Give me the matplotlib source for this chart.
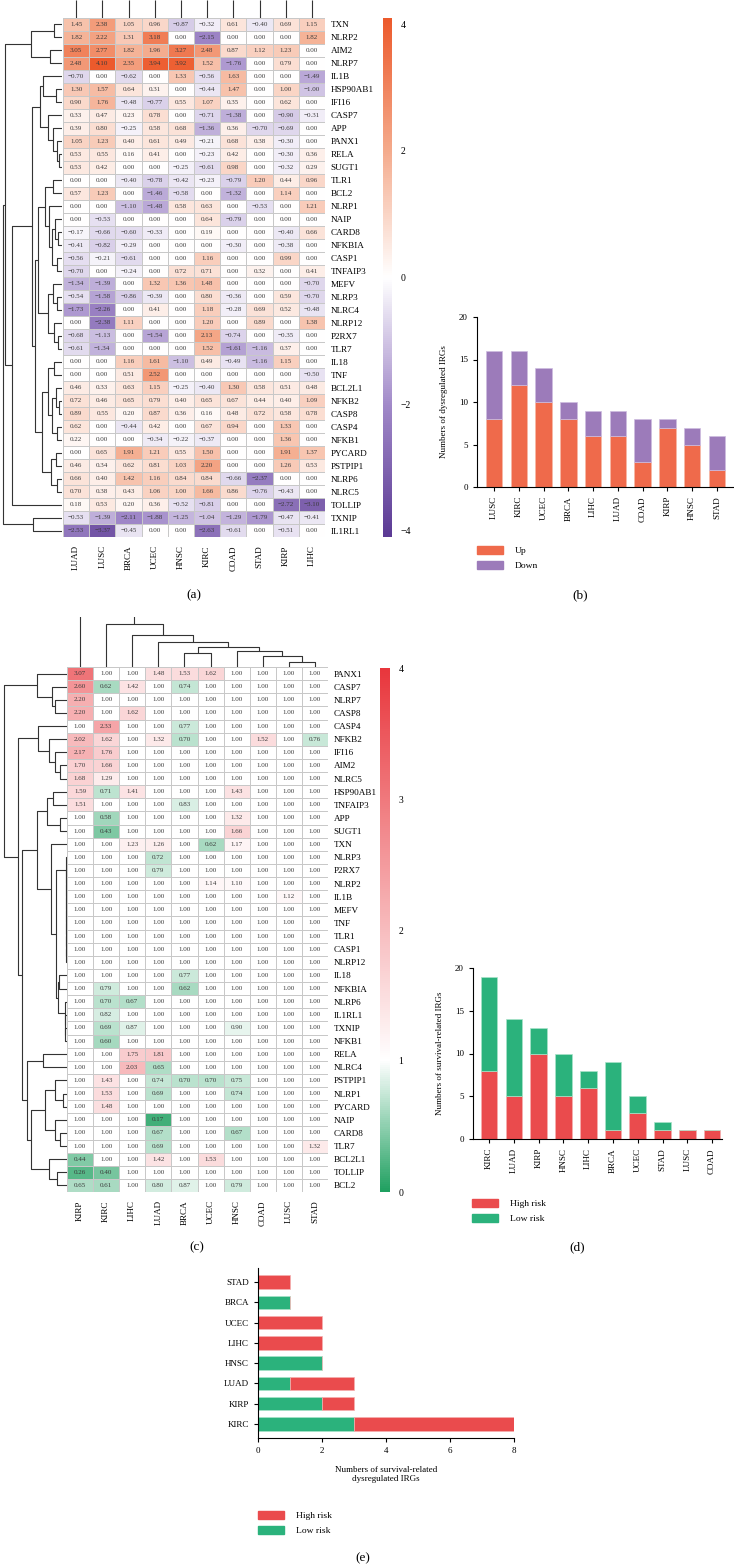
import numpy as np
import matplotlib
matplotlib.use("Agg")
import matplotlib.pyplot as plt
from matplotlib.colors import LinearSegmentedColormap
from matplotlib.patches import Patch

plt.rcParams['font.family'] = ['Liberation Serif', 'DejaVu Serif']

# ---------------- data: panel (a) ----------------
cols_a = ["LUAD", "LUSC", "BRCA", "UCEC", "HNSC", "KIRC", "COAD", "STAD", "KIRP", "LIHC"]
rows_a = ["TXN", "NLRP2", "AIM2", "NLRP7", "IL1B", "HSP90AB1", "IFI16", "CASP7", "APP", "PANX1",
          "RELA", "SUGT1", "TLR1", "BCL2", "NLRP1", "NAIP", "CARD8", "NFKBIA", "CASP1", "TNFAIP3",
          "MEFV", "NLRP3", "NLRC4", "NLRP12", "P2RX7", "TLR7", "IL18", "TNF", "BCL2L1", "NFKB2",
          "CASP8", "CASP4", "NFKB1", "PYCARD", "PSTPIP1", "NLRP6", "NLRC5", "TOLLIP", "TXNIP", "IL1RL1"]
vals_a = [
    [1.45, 2.38, 1.05, 0.96, -0.87, -0.32, 0.61, -0.40, 0.69, 1.15],
    [1.82, 2.22, 1.31, 3.18, 0.00, -2.15, 0.00, 0.00, 0.00, 1.82],
    [3.05, 2.77, 1.82, 1.96, 3.27, 2.48, 0.87, 1.12, 1.23, 0.00],
    [2.48, 4.10, 2.35, 3.94, 3.92, 1.52, -1.76, 0.00, 0.79, 0.00],
    [-0.70, 0.00, -0.62, 0.00, 1.33, -0.56, 1.63, 0.00, 0.00, -1.49],
    [1.30, 1.57, 0.64, 0.31, 0.00, -0.44, 1.47, 0.00, 1.00, -1.00],
    [0.90, 1.76, -0.48, -0.77, 0.55, 1.07, 0.35, 0.00, 0.62, 0.00],
    [0.33, 0.47, 0.23, 0.78, 0.00, -0.71, -1.38, 0.00, -0.90, -0.31],
    [0.39, 0.80, -0.25, 0.58, 0.68, -1.36, 0.36, -0.70, -0.69, 0.00],
    [1.05, 1.23, 0.40, 0.61, 0.49, -0.21, 0.68, 0.38, -0.30, 0.00],
    [0.53, 0.55, 0.16, 0.41, 0.00, -0.23, 0.42, 0.00, -0.30, 0.36],
    [0.53, 0.42, 0.00, 0.00, -0.25, -0.61, 0.98, 0.00, -0.32, 0.29],
    [0.00, 0.00, -0.40, -0.78, -0.42, -0.23, -0.79, 1.20, 0.44, 0.96],
    [0.57, 1.23, 0.00, -1.46, -0.58, 0.00, -1.32, 0.00, 1.14, 0.00],
    [0.00, 0.00, -1.10, -1.48, 0.58, 0.63, 0.00, -0.53, 0.00, 1.21],
    [0.00, -0.53, 0.00, 0.00, 0.00, 0.64, -0.79, 0.00, 0.00, 0.00],
    [-0.17, -0.66, -0.60, -0.33, 0.00, 0.19, 0.00, 0.00, -0.40, 0.66],
    [-0.41, -0.82, -0.29, 0.00, 0.00, 0.00, -0.30, 0.00, -0.38, 0.00],
    [-0.56, -0.21, -0.61, 0.00, 0.00, 1.16, 0.00, 0.00, 0.99, 0.00],
    [-0.70, 0.00, -0.24, 0.00, 0.72, 0.71, 0.00, 0.32, 0.00, 0.41],
    [-1.34, -1.39, 0.00, 1.32, 1.36, 1.48, 0.00, 0.00, 0.00, -0.70],
    [-0.54, -1.58, -0.86, -0.39, 0.00, 0.80, -0.36, 0.00, 0.59, -0.70],
    [-1.73, -2.26, 0.00, 0.41, 0.00, 1.18, -0.28, 0.69, 0.52, -0.48],
    [0.00, -2.38, 1.11, 0.00, 0.00, 1.20, 0.00, 0.89, 0.00, 1.38],
    [-0.68, -1.13, 0.00, -1.54, 0.00, 2.13, -0.74, 0.00, -0.35, 0.00],
    [-0.61, -1.34, 0.00, 0.00, 0.00, 1.52, -1.61, -1.16, 0.37, 0.00],
    [0.00, 0.00, 1.16, 1.61, -1.10, 0.49, -0.49, -1.16, 1.15, 0.00],
    [0.00, 0.00, 0.51, 2.52, 0.00, 0.00, 0.00, 0.00, 0.00, -0.50],
    [0.46, 0.33, 0.63, 1.15, -0.25, -0.40, 1.30, 0.58, 0.51, 0.48],
    [0.72, 0.46, 0.65, 0.79, 0.40, 0.65, 0.67, 0.44, 0.40, 1.09],
    [0.89, 0.55, 0.20, 0.87, 0.36, 0.16, 0.48, 0.72, 0.58, 0.78],
    [0.62, 0.00, -0.44, 0.42, 0.00, 0.67, 0.94, 0.00, 1.33, 0.00],
    [0.22, 0.00, 0.00, -0.34, -0.22, -0.37, 0.00, 0.00, 1.36, 0.00],
    [0.00, 0.65, 1.91, 1.21, 0.55, 1.50, 0.00, 0.00, 1.91, 1.37],
    [0.46, 0.34, 0.62, 0.81, 1.03, 2.20, 0.00, 0.00, 1.26, 0.53],
    [0.66, 0.40, 1.42, 1.16, 0.84, 0.84, -0.66, -2.37, 0.00, 0.00],
    [0.70, 0.38, 0.43, 1.06, 1.00, 1.66, 0.86, -0.76, -0.43, 0.00],
    [0.18, 0.53, 0.20, 0.36, -0.52, -0.81, 0.00, 0.00, -2.72, -3.10],
    [-0.53, -1.39, -2.11, -1.88, -1.25, -1.04, -1.29, -1.79, -0.47, -0.41],
    [-2.53, -3.37, -0.45, 0.00, 0.00, -2.63, -0.61, 0.00, -0.51, 0.00],
]
# row dendrogram of (a): nodes are (left, right, merge height); ints are leaf rows
a_U1 = ((0, 1, 8), (2, 3, 12), 31)
a_L12 = ((4, (5, 6, 6), 19), (7, (8, (9, (10, 11, 3), 5), 9), 14), 22)
a_M1 = ((12, 13, 9), (14, ((15, (16, 17, 4), 7), (18, 19, 5), 10), 13), 17)
a_M2 = ((20, (21, 22, 5), 9), (23, (24, 25, 4), 8), 14)
a_N1 = ((26, 27, 8), ((28, (29, 30, 3), 6), (31, 32, 5), 10), 14)
a_N2 = ((33, 34, 6), (35, 36, 5), 11)
a_MN = ((a_M1, a_M2, 24), (a_N1, a_N2, 20), 27)
a_LOW = ((a_L12, a_MN, 30), 37, 50)
tree_a = ((a_U1, a_LOW, 57), (38, 39, 29), 59)

# ---------------- data: panel (b) ----------------
cats_b = ["LUSC", "KIRC", "UCEC", "BRCA", "LIHC", "LUAD", "COAD", "KIRP", "HNSC", "STAD"]
up_b = [8, 12, 10, 8, 6, 6, 3, 7, 5, 2]
down_b = [8, 4, 4, 2, 3, 3, 5, 1, 2, 4]

# ---------------- data: panel (c) ----------------
cols_c = ["KIRP", "KIRC", "LIHC", "LUAD", "BRCA", "UCEC", "HNSC", "COAD", "LUSC", "STAD"]
rows_c = ["PANX1", "CASP7", "NLRP7", "CASP8", "CASP4", "NFKB2", "IFI16", "AIM2", "NLRC5", "HSP90AB1",
          "TNFAIP3", "APP", "SUGT1", "TXN", "NLRP3", "P2RX7", "NLRP2", "IL1B", "MEFV", "TNF",
          "TLR1", "CASP1", "NLRP12", "IL18", "NFKBIA", "NLRP6", "IL1RL1", "TXNIP", "NFKB1", "RELA",
          "NLRC4", "PSTPIP1", "NLRP1", "PYCARD", "NAIP", "CARD8", "TLR7", "BCL2L1", "TOLLIP", "BCL2"]
vals_c = [
    [3.07, 1.00, 1.00, 1.48, 1.53, 1.62, 1.00, 1.00, 1.00, 1.00],
    [2.60, 0.62, 1.42, 1.00, 0.74, 1.00, 1.00, 1.00, 1.00, 1.00],
    [2.20, 1.00, 1.00, 1.00, 1.00, 1.00, 1.00, 1.00, 1.00, 1.00],
    [2.20, 1.00, 1.62, 1.00, 1.00, 1.00, 1.00, 1.00, 1.00, 1.00],
    [1.00, 2.33, 1.00, 1.00, 0.77, 1.00, 1.00, 1.00, 1.00, 1.00],
    [2.02, 1.62, 1.00, 1.32, 0.70, 1.00, 1.00, 1.52, 1.00, 0.76],
    [2.17, 1.76, 1.00, 1.00, 1.00, 1.00, 1.00, 1.00, 1.00, 1.00],
    [1.70, 1.66, 1.00, 1.00, 1.00, 1.00, 1.00, 1.00, 1.00, 1.00],
    [1.68, 1.29, 1.00, 1.00, 1.00, 1.00, 1.00, 1.00, 1.00, 1.00],
    [1.59, 0.71, 1.41, 1.00, 1.00, 1.00, 1.43, 1.00, 1.00, 1.00],
    [1.51, 1.00, 1.00, 1.00, 0.83, 1.00, 1.00, 1.00, 1.00, 1.00],
    [1.00, 0.58, 1.00, 1.00, 1.00, 1.00, 1.32, 1.00, 1.00, 1.00],
    [1.00, 0.43, 1.00, 1.00, 1.00, 1.00, 1.66, 1.00, 1.00, 1.00],
    [1.00, 1.00, 1.23, 1.26, 1.00, 0.62, 1.17, 1.00, 1.00, 1.00],
    [1.00, 1.00, 1.00, 0.72, 1.00, 1.00, 1.00, 1.00, 1.00, 1.00],
    [1.00, 1.00, 1.00, 0.79, 1.00, 1.00, 1.00, 1.00, 1.00, 1.00],
    [1.00, 1.00, 1.00, 1.00, 1.00, 1.14, 1.10, 1.00, 1.00, 1.00],
    [1.00, 1.00, 1.00, 1.00, 1.00, 1.00, 1.00, 1.00, 1.12, 1.00],
    [1.00, 1.00, 1.00, 1.00, 1.00, 1.00, 1.00, 1.00, 1.00, 1.00],
    [1.00, 1.00, 1.00, 1.00, 1.00, 1.00, 1.00, 1.00, 1.00, 1.00],
    [1.00, 1.00, 1.00, 1.00, 1.00, 1.00, 1.00, 1.00, 1.00, 1.00],
    [1.00, 1.00, 1.00, 1.00, 1.00, 1.00, 1.00, 1.00, 1.00, 1.00],
    [1.00, 1.00, 1.00, 1.00, 1.00, 1.00, 1.00, 1.00, 1.00, 1.00],
    [1.00, 1.00, 1.00, 1.00, 0.77, 1.00, 1.00, 1.00, 1.00, 1.00],
    [1.00, 0.79, 1.00, 1.00, 0.62, 1.00, 1.00, 1.00, 1.00, 1.00],
    [1.00, 0.70, 0.67, 1.00, 1.00, 1.00, 1.00, 1.00, 1.00, 1.00],
    [1.00, 0.82, 1.00, 1.00, 1.00, 1.00, 1.00, 1.00, 1.00, 1.00],
    [1.00, 0.69, 0.87, 1.00, 1.00, 1.00, 0.90, 1.00, 1.00, 1.00],
    [1.00, 0.60, 1.00, 1.00, 1.00, 1.00, 1.00, 1.00, 1.00, 1.00],
    [1.00, 1.00, 1.75, 1.81, 1.00, 1.00, 1.00, 1.00, 1.00, 1.00],
    [1.00, 1.00, 2.03, 0.65, 1.00, 1.00, 1.00, 1.00, 1.00, 1.00],
    [1.00, 1.43, 1.00, 0.74, 0.70, 0.70, 0.75, 1.00, 1.00, 1.00],
    [1.00, 1.53, 1.00, 0.69, 1.00, 1.00, 0.74, 1.00, 1.00, 1.00],
    [1.00, 1.48, 1.00, 1.00, 1.00, 1.00, 1.00, 1.00, 1.00, 1.00],
    [1.00, 1.00, 1.00, 0.17, 1.00, 1.00, 1.00, 1.00, 1.00, 1.00],
    [1.00, 1.00, 1.00, 0.67, 1.00, 1.00, 0.67, 1.00, 1.00, 1.00],
    [1.00, 1.00, 1.00, 0.69, 1.00, 1.00, 1.00, 1.00, 1.00, 1.32],
    [0.44, 1.00, 1.00, 1.42, 1.00, 1.53, 1.00, 1.00, 1.00, 1.00],
    [0.26, 0.40, 1.00, 1.00, 1.00, 1.00, 1.00, 1.00, 1.00, 1.00],
    [0.65, 0.61, 1.00, 0.80, 0.87, 1.00, 0.79, 1.00, 1.00, 1.00],
]
c_A = (0, (1, (2, 3, 12), 15), 30)
c_B = (4, (5, (6, (7, 8, 7), 12), 18), 29)
c_F1 = (14, (15, (16, (17, (18, (19, (20, (21, 22, 1.5), 1.5), 1.5), 1.5), 1.5), 1.5), 1.5), 1.5)
c_F23 = ((23, 24, 8), (25, (26, (27, 28, 2), 2), 2), 9)
c_T = (13, (c_F1, c_F23, 11), 16)
c_HT = (((9, 10, 14), (11, 12, 7), 20), c_T, 30)
c_P = ((31, (32, 33, 4), 12), (34, (35, 36, 7), 12), 22)
c_Bt = (37, (38, 39, 10), 18)
c_RPB = ((29, 30, 24), (c_P, c_Bt, 36), 40)
tree_c_rows = (c_A, (c_B, (c_HT, c_RPB, 45), 49), 63)
tree_c_cols = (0, (1, (2, (3, ((4, 5, 14), (6, (7, (8, 9, 5), 11), 16), 20), 25), 32), 43), 70)

# ---------------- data: panel (d) ----------------
cats_d = ["KIRC", "LUAD", "KIRP", "HNSC", "LIHC", "BRCA", "UCEC", "STAD", "LUSC", "COAD"]
high_d = [8, 5, 10, 5, 6, 1, 3, 1, 1, 1]
low_d = [11, 9, 3, 5, 2, 8, 2, 1, 0, 0]

# ---------------- data: panel (e) ----------------
cats_e = ["KIRC", "KIRP", "LUAD", "HNSC", "LIHC", "UCEC", "BRCA", "STAD"]
low_e = [3, 2, 1, 2, 0, 0, 1, 0]
high_e = [5, 1, 2, 0, 2, 2, 0, 1]

# ---------------- styling ----------------
C_UP, C_DOWN = "#EF6A4B", "#9C7BBA"
C_HIGH, C_LOW = "#EA4B4D", "#2BB27C"
LINE = "#333333"
cmap_a = LinearSegmentedColormap.from_list("a", ["#5B3A94", "#A088C8", "#FFFFFF", "#F4A98A", "#EC5A2C"])
cmap_c = LinearSegmentedColormap.from_list("c", [(0.0, "#1FA060"), (0.25, "#FFFFFF"), (1.0, "#E8363C")])

W, H = 734, 1567
fig = plt.figure(figsize=(W / 100, H / 100), dpi=100)


def ax_px(x0, y0, x1, y1):
    return fig.add_axes([x0 / W, 1 - y1 / H, (x1 - x0) / W, (y1 - y0) / H])


def fmt(v):
    return f"{v:.2f}".replace("-", "\u2212")


def heatmap(ax, M, rows, cols, cmap, vmin, vmax):
    M = np.array(M)
    n, m = M.shape
    mesh = ax.pcolormesh(np.arange(m + 1), np.arange(n + 1), M, cmap=cmap, vmin=vmin, vmax=vmax,
                         edgecolors="#c8c8c8", linewidth=0.7)
    ax.set_xlim(0, m)
    ax.set_ylim(n, 0)
    for i in range(n):
        for j in range(m):
            ax.text(j + 0.5, i + 0.5, fmt(M[i, j]), ha="center", va="center", fontsize=5.0, color="#3a3a3a")
    ax.set_xticks(np.arange(m) + 0.5)
    ax.set_xticklabels(cols, rotation=90, fontsize=6.5, va="top")
    ax.set_yticks(np.arange(n) + 0.5)
    ax.set_yticklabels(rows, fontsize=6.6)
    ax.yaxis.tick_right()
    ax.tick_params(axis="x", length=0, pad=6)
    ax.tick_params(axis="y", length=0, pad=4)
    for s in ax.spines.values():
        s.set_visible(False)
    return mesh


def draw_tree(ax, node, orient):
    if not isinstance(node, tuple):
        return node + 0.5, 0.0
    l, r, h = node
    pl, hl = draw_tree(ax, l, orient)
    pr, hr = draw_tree(ax, r, orient)
    if orient == "left":
        ax.plot([hl, h, h, hr], [pl, pl, pr, pr], color=LINE, lw=0.8, solid_capstyle="butt")
    else:
        ax.plot([pl, pl, pr, pr], [hl, h, h, hr], color=LINE, lw=0.8, solid_capstyle="butt")
    return (pl + pr) / 2, h


def colorbar(cax, mesh, ticks):
    cb = fig.colorbar(mesh, cax=cax, ticks=ticks)
    cb.outline.set_visible(False)
    cb.ax.tick_params(length=0, labelsize=7, pad=6)
    cb.ax.set_yticklabels([fmt(t).split(".")[0] for t in ticks])
    return cb


# ================= (a) =================
ax_a = ax_px(63, 18, 325, 537)
mesh_a = heatmap(ax_a, vals_a, rows_a, cols_a, cmap_a, -4.1, 4.1)
dax = ax_px(0, 18, 62, 537)
draw_tree(dax, tree_a, "left")
dax.set_xlim(62, 0)
dax.set_ylim(40, 0)
dax.axis("off")
cdax = ax_px(63, 0, 325, 18)
cdax.vlines(np.arange(len(cols_a)) + 0.5, 0, 1, color=LINE, lw=0.8)
cdax.set_xlim(0, len(cols_a))
cdax.set_ylim(0, 1)
cdax.axis("off")
colorbar(ax_px(383, 18, 392, 537), mesh_a, [-4, -2, 0, 2, 4])
fig.text(194 / W, 1 - 595 / H, "(a)", ha="center", va="center", fontsize=9.5)

# ================= (b) =================
ax_b = ax_px(477, 317, 733, 487)
xb = np.arange(len(cats_b))
ax_b.bar(xb, up_b, width=0.67, color=C_UP, edgecolor="#f7b9a6", linewidth=0.5)
ax_b.bar(xb, down_b, bottom=up_b, width=0.67, color=C_DOWN, edgecolor="#cdbde0", linewidth=0.5)
ax_b.set_xlim(-0.69, 9.65)
ax_b.set_ylim(0, 20)
ax_b.set_yticks([0, 5, 10, 15, 20])
ax_b.set_xticks(xb)
ax_b.set_xticklabels(cats_b, rotation=90, fontsize=6.5)
ax_b.tick_params(axis="y", labelsize=6.5, length=3, width=0.8)
ax_b.tick_params(axis="x", length=3, width=0.8)
ax_b.set_ylabel("Numbers of dysregulated IRGs", fontsize=6.5, labelpad=8)
for s in ["top", "right"]:
    ax_b.spines[s].set_visible(False)
fig.legend([Patch(color=C_UP), Patch(color=C_DOWN)], ["Up", "Down"], loc="upper left",
           bbox_to_anchor=(477 / W, 1 - 546 / H), frameon=False, fontsize=6.8, handlelength=2.8,
           handleheight=0.95, labelspacing=0.55, handletextpad=1.2, borderaxespad=0, borderpad=0)
fig.text(580 / W, 1 - 595 / H, "(b)", ha="center", va="center", fontsize=9.5)

# ================= (c) =================
ax_c = ax_px(67, 667, 328, 1192)
mesh_c = heatmap(ax_c, vals_c, rows_c, cols_c, cmap_c, 0, 4)
dcx = ax_px(0, 667, 67, 1192)
draw_tree(dcx, tree_c_rows, "left")
dcx.set_xlim(67, 0)
dcx.set_ylim(40, 0)
dcx.axis("off")
dcc = ax_px(67, 617, 328, 667)
draw_tree(dcc, tree_c_cols, "top")
dcc.set_xlim(0, len(cols_c))
dcc.set_ylim(0, 50)
dcc.axis("off")
colorbar(ax_px(380, 668, 390, 1192), mesh_c, [0, 1, 2, 3, 4])
fig.text(197 / W, 1 - 1247 / H, "(c)", ha="center", va="center", fontsize=9.5)

# ================= (d) =================
ax_d = ax_px(473, 968, 722, 1139)
xd = np.arange(len(cats_d))
ax_d.bar(xd, high_d, width=0.67, color=C_HIGH, edgecolor="#f5b0b0", linewidth=0.5)
ax_d.bar(xd, low_d, bottom=high_d, width=0.67, color=C_LOW, edgecolor="#a9e3c9", linewidth=0.5)
ax_d.set_xlim(-0.65, 9.4)
ax_d.set_ylim(0, 20)
ax_d.set_yticks([0, 5, 10, 15, 20])
ax_d.set_xticks(xd)
ax_d.set_xticklabels(cats_d, rotation=90, fontsize=6.5)
ax_d.tick_params(axis="y", labelsize=6.5, length=3, width=0.8)
ax_d.tick_params(axis="x", length=3, width=0.8)
ax_d.set_ylabel("Numbers of survival-related IRGs", fontsize=6.5, labelpad=8)
for s in ["top", "right"]:
    ax_d.spines[s].set_visible(False)
fig.legend([Patch(color=C_HIGH), Patch(color=C_LOW)], ["High risk", "Low risk"], loc="upper left",
           bbox_to_anchor=(472 / W, 1 - 1199 / H), frameon=False, fontsize=6.8, handlelength=2.8,
           handleheight=0.95, labelspacing=0.55, handletextpad=1.2, borderaxespad=0, borderpad=0)
fig.text(577 / W, 1 - 1247 / H, "(d)", ha="center", va="center", fontsize=9.5)

# ================= (e) =================
ax_e = ax_px(258, 1268, 514, 1438)
ye = np.arange(len(cats_e))
ax_e.barh(ye, low_e, height=0.66, color=C_LOW, edgecolor="#a9e3c9", linewidth=0.5)
ax_e.barh(ye, high_e, left=low_e, height=0.66, color=C_HIGH, edgecolor="#f5b0b0", linewidth=0.5)
ax_e.set_xlim(0, 8)
ax_e.set_ylim(-0.7, 7.7)
ax_e.set_xticks([0, 2, 4, 6, 8])
ax_e.set_yticks(ye)
ax_e.set_yticklabels(cats_e, fontsize=6.5)
ax_e.tick_params(axis="x", labelsize=6.5, length=3, width=0.8)
ax_e.tick_params(axis="y", length=3, width=0.8)
ax_e.set_xlabel("Numbers of survival-related\ndysregulated IRGs", fontsize=6.5, labelpad=8)
for s in ["top", "right"]:
    ax_e.spines[s].set_visible(False)
fig.legend([Patch(color=C_HIGH), Patch(color=C_LOW)], ["High risk", "Low risk"], loc="upper left",
           bbox_to_anchor=(258 / W, 1 - 1511 / H), frameon=False, fontsize=6.8, handlelength=2.8,
           handleheight=0.95, labelspacing=0.55, handletextpad=1.2, borderaxespad=0, borderpad=0)
fig.text(363 / W, 1 - 1558 / H, "(e)", ha="center", va="center", fontsize=9.5)

fig.savefig("out.png", dpi=100)
